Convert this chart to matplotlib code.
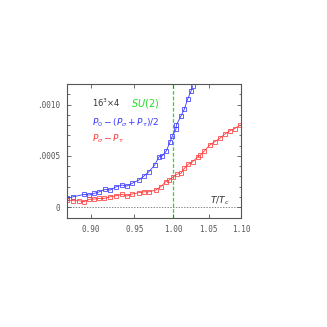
import matplotlib
matplotlib.use("Agg")
from matplotlib import pyplot as plt
from matplotlib.ticker import FixedLocator, NullLocator, MultipleLocator, FuncFormatter

# T/Tc and plaquette differences
t_blue = [0.875, 0.8813, 0.8927, 0.8982, 0.9037, 0.9093, 0.9158, 0.9215, 0.9285,
          0.9351, 0.9411, 0.9472, 0.9554, 0.9617, 0.9680, 0.9753, 0.9809, 0.9853,
          0.9906, 0.9951, 0.9986, 1.0033, 1.0041, 1.0102, 1.0148, 1.0194, 1.0242,
          1.0265]
p_blue = [8.7e-5, 10.3e-5, 12.6e-5, 11.9e-5, 13.6e-5, 15.1e-5, 17.5e-5, 16.8e-5,
          20.0e-5, 21.7e-5, 20.7e-5, 23.3e-5, 26.5e-5, 30.4e-5, 34.6e-5, 41.1e-5,
          49.1e-5, 50.1e-5, 55.0e-5, 63.1e-5, 69.5e-5, 76.0e-5, 80.2e-5, 88.9e-5,
          95.4e-5, 105.1e-5, 113.2e-5, 118.1e-5]

t_red = [0.875, 0.8813, 0.8874, 0.8927, 0.8982, 0.9037, 0.9093, 0.9150, 0.9219,
         0.9285, 0.9351, 0.9411, 0.9472, 0.9554, 0.9617, 0.9680, 0.9766, 0.9831,
         0.9898, 0.9942, 1.0000, 1.0047, 1.0102, 1.0148, 1.0204, 1.0265, 1.0338,
         1.0377, 1.0436, 1.0511, 1.0586, 1.0663, 1.0741, 1.0820, 1.0900, 1.0982]
p_red = [7.1e-5, 6.4e-5, 6.4e-5, 5.4e-5, 7.8e-5, 8.1e-5, 8.7e-5, 8.7e-5, 10.3e-5,
         11.3e-5, 12.6e-5, 11.0e-5, 12.9e-5, 14.2e-5, 15.1e-5, 15.1e-5, 16.8e-5,
         20.0e-5, 24.9e-5, 26.5e-5, 29.7e-5, 32.3e-5, 33.0e-5, 37.9e-5, 42.0e-5,
         44.3e-5, 49.1e-5, 50.8e-5, 55.0e-5, 60.5e-5, 63.7e-5, 67.0e-5, 71.2e-5,
         74.4e-5, 76.7e-5, 79.9e-5]

x_ticks = [0.90, 0.95, 1.00, 1.05, 1.10]
y_ticks = [0.0, 0.0005, 0.0010]
y_tick_labels = ["0", ".0005", ".0010"]

BLUE = "#3a3aff"
RED = "#ff3a3a"
GREEN = "#22dd22"
GREY = "#555555"

fig = plt.figure(figsize=(3.27, 3.27), dpi=100)
ax = fig.add_axes([0.2058, 0.3333, 0.5312, 0.4098])

# x axis is linear in 1/T
ax.set_xscale("function", functions=(lambda x: -1.0 / x, lambda y: -1.0 / y))
ax.set_xlim(0.875, 1.10)
ax.set_ylim(-0.000104, 0.0012)

ax.axhline(0, color=GREY, linestyle=(0, (2, 2)), linewidth=0.5)
ax.axvline(1.0, color=GREEN, linestyle=(0, (3, 1.5)), linewidth=0.9, zorder=1.5)

ax.plot(t_blue, p_blue, color=BLUE, linewidth=0.6, marker="s", markersize=2.6,
        markerfacecolor="none", markeredgewidth=0.55)
ax.plot(t_red, p_red, color=RED, linewidth=0.6, marker="s", markersize=2.6,
        markerfacecolor="none", markeredgewidth=0.55)

ax.xaxis.set_major_locator(FixedLocator(x_ticks))
ax.xaxis.set_minor_locator(NullLocator())
ax.xaxis.set_major_formatter(FuncFormatter(lambda v, p: f"{v:.2f}"))
ax.yaxis.set_major_locator(FixedLocator(y_ticks))
ax.yaxis.set_minor_locator(MultipleLocator(0.0001))
ax.set_yticklabels(y_tick_labels)

ax.tick_params(which="both", direction="in", top=True, right=True, colors=GREY,
               labelsize=5.5, width=0.6)
ax.tick_params(which="major", length=3, pad=5)
ax.tick_params(which="minor", length=1.8)
for lab in ax.get_xticklabels() + ax.get_yticklabels():
    lab.set_family("DejaVu Sans Mono")
for s in ax.spines.values():
    s.set_color(GREY)
    s.set_linewidth(0.8)

ax.text(0.142, 0.858, r"$16^3{\times}4$", transform=ax.transAxes, fontsize=6,
        color="#333333", va="center")
ax.text(0.368, 0.858, r"$SU(2)$", transform=ax.transAxes, fontsize=7,
        color=GREEN, va="center")
ax.text(0.142, 0.709, r"$P_0-(P_\sigma+P_\tau)/2$", transform=ax.transAxes,
        fontsize=6.5, color=BLUE, va="center")
ax.text(0.142, 0.590, r"$P_\sigma-P_\tau$", transform=ax.transAxes,
        fontsize=6.5, color=RED, va="center")
ax.text(0.82, 0.127, r"$T/T_c$", transform=ax.transAxes, fontsize=6.5,
        color="#333333", va="center")

fig.savefig("out.png", dpi=100)
